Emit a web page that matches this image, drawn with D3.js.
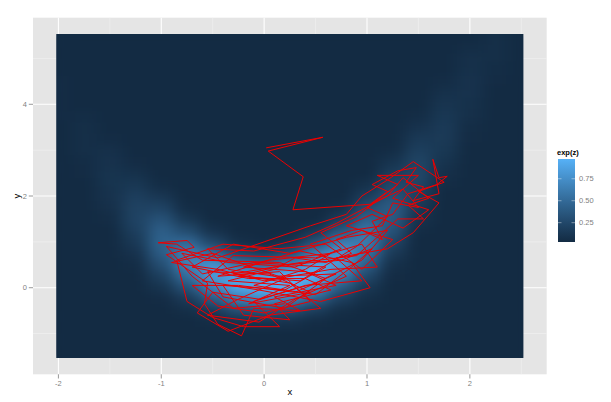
<!DOCTYPE html>
<html>
<head>
<meta charset="utf-8">
<script src="https://cdn.jsdelivr.net/npm/d3@7"></script>
<style>
body { margin: 0; background: #ffffff; }
svg { display: block; font-family: "Liberation Sans", Arial, sans-serif; }
</style>
</head>
<body>
<svg id="chart" width="611" height="402"></svg>
<script>
// grid of exp(z), rows from top (y=5.5) to bottom (y=-1.5)
var gridX = [-2, -1.75, -1.5, -1.25, -1, -0.75, -0.5, -0.25, 0, 0.25, 0.5, 0.75, 1, 1.25, 1.5, 1.75, 2, 2.25, 2.5];
var gridY = [5.5, 5.25, 5, 4.75, 4.5, 4.25, 4, 3.75, 3.5, 3.25, 3, 2.75, 2.5, 2.25, 2, 1.75, 1.5, 1.25, 1, 0.75, 0.5, 0.25, 0, -0.25, -0.5, -0.75, -1, -1.25, -1.5];
var zRows = [
	[.01, 0, 0, 0, 0, 0, 0, 0, 0, 0, 0, 0, 0, 0, 0, 0, .03, .06, .02],
	[.01, 0, 0, 0, 0, 0, 0, 0, 0, 0, 0, 0, 0, 0, 0, .01, .05, .06, .02],
	[.02, 0, 0, 0, 0, 0, 0, 0, 0, 0, 0, 0, 0, 0, 0, .02, .07, .06, .01],
	[.03, .01, 0, 0, 0, 0, 0, 0, 0, 0, 0, 0, 0, 0, 0, .03, .08, .05, .01],
	[.04, .01, 0, 0, 0, 0, 0, 0, 0, 0, 0, 0, 0, 0, 0, .05, .09, .04, 0],
	[.04, .02, 0, 0, 0, 0, 0, 0, 0, 0, 0, 0, 0, 0, .01, .08, .09, .03, 0],
	[.04, .03, .01, 0, 0, 0, 0, 0, 0, 0, 0, 0, 0, 0, .03, .11, .08, .02, 0],
	[.04, .05, .02, 0, 0, 0, 0, 0, 0, 0, 0, 0, 0, 0, .05, .13, .07, .01, 0],
	[.03, .06, .02, 0, 0, 0, 0, 0, 0, 0, 0, 0, 0, .01, .09, .15, .05, 0, 0],
	[.03, .06, .04, .01, 0, 0, 0, 0, 0, 0, 0, 0, 0, .02, .14, .15, .04, 0, 0],
	[.02, .06, .07, .02, 0, 0, 0, 0, 0, 0, 0, 0, 0, .05, .19, .13, .02, 0, 0],
	[.02, .05, .09, .04, .01, 0, 0, 0, 0, 0, 0, 0, .01, .10, .23, .10, .01, 0, 0],
	[.01, .04, .10, .08, .02, 0, 0, 0, 0, 0, 0, 0, .03, .17, .25, .07, 0, 0, 0],
	[.01, .03, .10, .13, .05, 0, 0, 0, 0, 0, 0, 0, .08, .26, .23, .05, 0, 0, 0],
	[0, .02, .09, .18, .12, .01, 0, 0, 0, 0, 0, .02, .17, .34, .19, .03, 0, 0, 0],
	[0, .01, .07, .21, .22, .05, 0, 0, 0, 0, 0, .06, .30, .40, .14, .01, 0, 0, 0],
	[0, .01, .05, .22, .33, .13, .02, 0, 0, 0, .03, .17, .45, .39, .09, 0, 0, 0, 0],
	[0, 0, .03, .19, .42, .28, .09, .01, 0, .02, .12, .36, .58, .33, .05, 0, 0, 0, 0],
	[0, 0, .02, .14, .45, .48, .24, .07, .04, .09, .32, .62, .62, .24, .03, 0, 0, 0, 0],
	[0, 0, .01, .09, .40, .64, .51, .25, .18, .30, .63, .80, .55, .15, .01, 0, 0, 0, 0],
	[0, 0, 0, .05, .30, .66, .77, .58, .50, .66, .90, .81, .41, .08, 0, 0, 0, 0, 0],
	[0, 0, 0, .02, .19, .52, .82, .88, .87, .97, .97, .63, .25, .04, 0, 0, 0, 0, 0],
	[0, 0, 0, .01, .10, .32, .66, .90, .97, .97, .74, .38, .13, .02, 0, 0, 0, 0, 0],
	[0, 0, 0, 0, .04, .15, .39, .63, .72, .66, .43, .18, .06, .01, 0, 0, 0, 0, 0],
	[0, 0, 0, 0, .02, .06, .16, .30, .35, .30, .17, .06, .02, 0, 0, 0, 0, 0, 0],
	[0, 0, 0, 0, 0, .02, .05, .09, .10, .09, .05, .02, .01, 0, 0, 0, 0, 0, 0],
	[0, 0, 0, 0, 0, 0, .01, .02, .02, .02, .01, 0, 0, 0, 0, 0, 0, 0, 0],
	[0, 0, 0, 0, 0, 0, 0, 0, 0, 0, 0, 0, 0, 0, 0, 0, 0, 0, 0],
	[0, 0, 0, 0, 0, 0, 0, 0, 0, 0, 0, 0, 0, 0, 0, 0, 0, 0, 0]
];

// sampler path (red line)
var traceX = [0.02, 0.57, 0.04, 0.38, 0.28, 1.03, 1.20, 1.05, 1.30, 1.48, 1.38, 1.55, 1.45, 1.70, 1.64, 1.70, 1.78, 1.68, 1.40, 1.25,
	1.05, 1.15, 0.95, 0.70, 0.85, 0.60, 0.30, 0.10, -0.35, 0.25, -0.15, 0.45, 0.05, -0.55, -0.40, 0.20, 0.60, 0.15, -0.60, -0.85,
	-1.03, -0.75, -0.68, -0.95, -0.55, -0.58, -0.45, -0.22, -0.10, 0.35, 0.10, 0.70, 0.40, -0.20, 0.35, 0.85, 1.03, 0.55, -0.05, -0.60,
	-0.30, 0.50, 0.95, 1.10, 0.65, 0.00, -0.45, -0.90, -0.50, 0.20, -0.25, -0.55, -0.05, 0.30, 0.80, 0.45, 0.85, 1.15, 1.25, 1.50,
	1.35, 1.10, 0.90, 0.55, 0.75, 0.30, -0.35, -0.80, -0.60, -0.10, 0.60, 0.20, -0.40, -0.20, 0.25, 0.10, 0.65, 0.40, -0.15, -0.70,
	-0.30, 0.25, 0.80, 1.20, 0.95, 0.50, -0.05, -0.50, -0.65, -0.35, 0.05, 0.55, 0.25, -0.30, 0.35, 0.90, 1.10, 1.30, 1.55, 1.40,
	1.60, 1.35, 1.20, 0.95, 0.70, 0.40, -0.10, -0.55, -0.35, 0.10, 0.70, 0.30, -0.25, -0.70, -0.45, 0.00, 0.45, 0.15, -0.45, 0.05,
	0.65, 0.40, -0.10, 0.50, 0.85, 1.05, 0.75, 0.20, -0.25, 0.35, 0.90, 1.20, 1.00, 1.30, 1.10, 1.50, 1.25, 1.60, 1.35, 1.05,
	0.80, 1.25, 0.95, 0.60, 0.15, -0.40, -0.85, -0.75, -0.50, -0.20, 0.15, -0.10, 0.40, 0.95, 0.70, 1.20, 1.45, 1.70, 1.50, 1.75,
	1.45, 1.20, 0.95, 0.80, 0.45, 0.00, -0.45, -0.95, -0.70, -0.30, 0.20];
var traceY = [3.05, 3.28, 2.98, 2.42, 1.70, 1.82, 2.10, 2.25, 2.55, 2.62, 2.30, 2.20, 1.90, 2.05, 2.80, 2.40, 2.43, 2.25, 2.05, 1.60,
	1.45, 1.05, 1.25, 1.05, 0.75, 0.55, 0.65, 0.40, 0.15, 0.05, -0.35, -0.10, 0.30, 0.35, -0.20, -0.45, 0.20, 0.55, 0.60, 0.95,
	0.98, 1.03, 0.88, 0.72, 0.10, -0.35, -0.80, -1.05, -0.45, -0.50, -0.20, 0.05, 0.35, 0.45, 0.80, 0.55, 0.00, -0.30, -0.05, 0.15,
	0.70, 0.65, 0.95, 0.45, 0.40, 0.15, 0.40, 0.55, 0.75, 0.20, -0.25, -0.60, -0.75, -0.25, 0.25, 0.95, 1.25, 1.35, 1.85, 1.75,
	2.15, 1.90, 1.55, 1.20, 0.85, 0.45, 0.55, 0.75, 0.30, 0.55, 0.45, -0.05, 0.05, -0.60, -0.70, -0.35, -0.05, 0.20, 0.20, 0.45,
	0.95, 0.75, 1.10, 1.25, 0.60, 0.10, -0.25, -0.10, -0.55, -0.95, -0.60, -0.45, 0.10, 0.30, 0.55, 0.70, 1.10, 1.50, 1.50, 1.80,
	1.95, 2.40, 2.00, 1.70, 1.40, 1.10, 0.80, 0.85, 0.40, 0.25, 0.30, -0.10, 0.05, 0.05, -0.40, -0.55, -0.30, 0.35, 0.25, 0.60,
	0.75, 0.40, 0.05, -0.15, 0.45, 0.85, 0.60, 0.50, 0.25, 0.15, 0.90, 1.55, 1.75, 2.25, 2.45, 2.45, 1.95, 1.70, 1.30, 1.60,
	1.35, 1.05, 0.40, 0.95, 0.85, 0.95, 0.60, -0.30, -0.65, -0.85, -0.85, -0.30, 0.05, 0.15, 0.65, 0.85, 1.20, 1.85, 2.10, 2.30,
	2.75, 2.35, 2.00, 1.60, 1.35, 1.00, 0.65, 0.90, 0.25, -0.45, -0.35];

var xTicks = [-2, -1, 0, 1, 2];
var xMinor = [-1.5, -0.5, 0.5, 1.5, 2.5];
var yTicks = [0, 2, 4];
var yMinor = [-1, 1, 3, 5];
var legendTicks = [0.25, 0.5, 0.75];

var rasterX = [-2.02, 2.52], rasterY = [-1.535, 5.535];
var fillRange = [0.03, 0.975];
var cellW = 0.25, cellH = 0.25;

function drawChart() {
	var svg = d3.select("#chart");
	var padX = (rasterX[1] - rasterX[0]) * 0.05,
		padY = (rasterY[1] - rasterY[0]) * 0.05;
	var x = d3.scaleLinear().domain([rasterX[0] - padX, rasterX[1] + padX]).range([33, 546.7]);
	var y = d3.scaleLinear().domain([rasterY[0] - padY, rasterY[1] + padY]).range([374.3, 17.7]);
	var fill = d3.scaleLinear().domain(fillRange).range(["#132B43", "#56B1F7"])
		.interpolate(d3.interpolateLab).clamp(true);

	var defs = svg.append("defs");
	defs.append("clipPath").attr("id", "rasterClip")
		.append("rect")
		.attr("x", x(rasterX[0])).attr("y", y(rasterY[1]))
		.attr("width", x(rasterX[1]) - x(rasterX[0]))
		.attr("height", y(rasterY[0]) - y(rasterY[1]));
	defs.append("filter").attr("id", "smooth")
		.attr("x", "-10%").attr("y", "-10%").attr("width", "120%").attr("height", "120%")
		.attr("color-interpolation-filters", "sRGB")
		.append("feGaussianBlur").attr("stdDeviation", "8 4");

	// panel
	svg.append("rect").attr("x", 33).attr("y", 17.7)
		.attr("width", 546.7 - 33).attr("height", 374.3 - 17.7)
		.attr("fill", "#E5E5E5");
	svg.append("g").selectAll("line.minx").data(xMinor).enter().append("line")
		.attr("x1", d => x(d)).attr("x2", d => x(d)).attr("y1", 17.7).attr("y2", 374.3)
		.attr("stroke", "#F2F2F2").attr("stroke-width", 0.6);
	svg.append("g").selectAll("line.miny").data(yMinor).enter().append("line")
		.attr("y1", d => y(d)).attr("y2", d => y(d)).attr("x1", 33).attr("x2", 546.7)
		.attr("stroke", "#F2F2F2").attr("stroke-width", 0.6);
	svg.append("g").selectAll("line.majx").data(xTicks).enter().append("line")
		.attr("x1", d => x(d)).attr("x2", d => x(d)).attr("y1", 17.7).attr("y2", 374.3)
		.attr("stroke", "#FFFFFF").attr("stroke-width", 1.1);
	svg.append("g").selectAll("line.majy").data(yTicks).enter().append("line")
		.attr("y1", d => y(d)).attr("y2", d => y(d)).attr("x1", 33).attr("x2", 546.7)
		.attr("stroke", "#FFFFFF").attr("stroke-width", 1.1);

	// raster
	var cells = [];
	zRows.forEach(function(row, i) {
		row.forEach(function(v, j) {
			cells.push({ gx: gridX[j], gy: gridY[i], z: v });
		});
	});
	var raster = svg.append("g").attr("clip-path", "url(#rasterClip)");
	raster.append("rect")
		.attr("x", x(rasterX[0])).attr("y", y(rasterY[1]))
		.attr("width", x(rasterX[1]) - x(rasterX[0]))
		.attr("height", y(rasterY[0]) - y(rasterY[1]))
		.attr("fill", fill(0));
	raster.append("g").attr("filter", "url(#smooth)")
		.selectAll("rect").data(cells).enter().append("rect")
		.attr("x", d => x(d.gx - cellW / 2))
		.attr("y", d => y(d.gy + cellH / 2))
		.attr("width", x(cellW) - x(0) + 0.5)
		.attr("height", y(0) - y(cellH) + 0.5)
		.attr("fill", d => fill(d.z));

	// trace
	var pts = traceX.map((v, i) => [v, traceY[i]]);
	svg.append("path").datum(pts)
		.attr("d", d3.line().x(d => x(d[0])).y(d => y(d[1])))
		.attr("fill", "none").attr("stroke", "#EE0000")
		.attr("stroke-width", 1).attr("stroke-linejoin", "miter");

	// axes
	svg.append("g").selectAll("line").data(xTicks).enter().append("line")
		.attr("x1", d => x(d)).attr("x2", d => x(d)).attr("y1", 374.3).attr("y2", 378.5)
		.attr("stroke", "#7F7F7F").attr("stroke-width", 0.8);
	svg.append("g").selectAll("text").data(xTicks).enter().append("text")
		.attr("x", d => x(d)).attr("y", 386)
		.attr("text-anchor", "middle").attr("font-size", 7.5).attr("fill", "#7F7F7F")
		.text(d => d);
	svg.append("g").selectAll("line").data(yTicks).enter().append("line")
		.attr("y1", d => y(d)).attr("y2", d => y(d)).attr("x1", 28.8).attr("x2", 33)
		.attr("stroke", "#7F7F7F").attr("stroke-width", 0.8);
	svg.append("g").selectAll("text").data(yTicks).enter().append("text")
		.attr("x", 27).attr("y", d => y(d) + 2.7)
		.attr("text-anchor", "end").attr("font-size", 7.5).attr("fill", "#7F7F7F")
		.text(d => d);
	svg.append("text").attr("x", x(0.25)).attr("y", 395)
		.attr("text-anchor", "middle").attr("font-size", 9.5).attr("fill", "#000")
		.text("x");
	svg.append("text").attr("transform", "translate(20," + y(2) + ") rotate(-90)")
		.attr("text-anchor", "middle").attr("font-size", 9.5).attr("fill", "#000")
		.text("y");

	// legend
	var ly = d3.scaleLinear().domain(fillRange).range([242, 159]);
	var grad = defs.append("linearGradient").attr("id", "barGrad")
		.attr("x1", 0).attr("y1", 1).attr("x2", 0).attr("y2", 0);
	d3.range(0, 1.0001, 0.1).forEach(function(t) {
		grad.append("stop").attr("offset", t)
			.attr("stop-color", fill(fillRange[0] + t * (fillRange[1] - fillRange[0])));
	});
	svg.append("text").attr("x", 557).attr("y", 155)
		.attr("font-size", 7.5).attr("font-weight", "bold").attr("fill", "#000")
		.text("exp(z)");
	svg.append("rect").attr("x", 558).attr("y", 159).attr("width", 17).attr("height", 83)
		.attr("fill", "url(#barGrad)");
	var lg = svg.append("g");
	lg.selectAll("line.l").data(legendTicks).enter().append("line")
		.attr("x1", 558).attr("x2", 561.5).attr("y1", d => ly(d)).attr("y2", d => ly(d))
		.attr("stroke", "#fff").attr("stroke-opacity", 0.7).attr("stroke-width", 0.6);
	lg.selectAll("line.r").data(legendTicks).enter().append("line")
		.attr("x1", 571.5).attr("x2", 575).attr("y1", d => ly(d)).attr("y2", d => ly(d))
		.attr("stroke", "#fff").attr("stroke-opacity", 0.7).attr("stroke-width", 0.6);
	lg.selectAll("text").data(legendTicks).enter().append("text")
		.attr("x", 579).attr("y", d => ly(d) + 2.7)
		.attr("font-size", 7.5).attr("fill", "#7F7F7F")
		.text(d => d3.format(".2f")(d));
}

drawChart();
</script>
</body>
</html>
